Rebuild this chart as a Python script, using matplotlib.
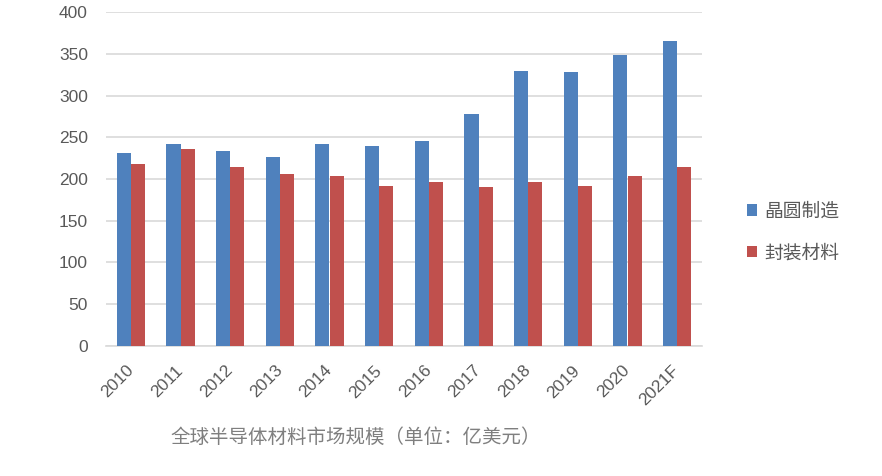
import numpy as np
import matplotlib
matplotlib.use('Agg')
import matplotlib.pyplot as plt

plt.rcParams['font.family'] = ['Noto Sans CJK SC', 'DejaVu Sans']

# data
years = ['2010', '2011', '2012', '2013', '2014', '2015', '2016', '2017',
         '2018', '2019', '2020', '2021F']
wafer = [231, 242, 234, 226, 242, 239, 246, 278, 329, 328, 349, 366]
packaging = [218, 236, 214, 206, 204, 192, 196, 190, 196, 192, 204, 214]
series_names = ['晶圆制造', '封装材料']
title = '全球半导体材料市场规模（单位：亿美元）'

blue = '#4F81BD'
red = '#C0504D'
grey_text = '#595959'
num_font = ['Liberation Sans', 'DejaVu Sans']

fig = plt.figure(figsize=(8.82, 4.76), dpi=100)
ax = fig.add_axes([106 / 882, 1 - 345.7 / 476, 596 / 882, 333.4 / 476])

x = np.arange(len(years))
w = 0.283
ax.bar(x - w / 2, wafer, w, color=blue, label=series_names[0], zorder=3)
ax.bar(x + w / 2, packaging, w, color=red, label=series_names[1], zorder=3)

ax.set_xlim(-0.5, len(years) - 0.5)
ax.set_ylim(0, 400)
ax.set_yticks(range(0, 401, 50))
ax.grid(axis='y', color='#D9D9D9', linewidth=1.2, zorder=0)

for s in ['top', 'right', 'left']:
    ax.spines[s].set_visible(False)
ax.spines['bottom'].set_color('#D9D9D9')
ax.spines['bottom'].set_linewidth(1.2)

ax.tick_params(axis='both', length=0, colors=grey_text, labelsize=12.5)
ax.tick_params(axis='y', pad=13)
ax.set_xticks(x)
ax.set_xticklabels(years, rotation=45, ha='right', va='center',
                   rotation_mode='anchor', family=num_font)
for lab in ax.get_yticklabels():
    lab.set_family(num_font)
ax.tick_params(axis='x', pad=16)

fig.text(356 / 882, 1 - 437 / 476, title, ha='center', va='center',
         fontsize=14, color='#7F7F7F')

leg = fig.legend(loc='center left', bbox_to_anchor=(730 / 882, 1 - 232 / 476),
                 frameon=False, fontsize=13.5, handlelength=0.55, handleheight=0.55,
                 handletextpad=0.4, labelspacing=1.1, labelcolor=grey_text)

fig.savefig('out.png', dpi=100)
